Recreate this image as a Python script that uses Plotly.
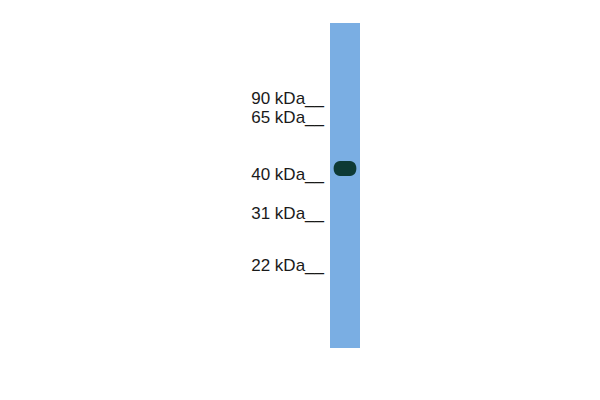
import plotly.graph_objects as go

# ラダーマーカー（ラベルとピクセル位置）
marker_labels = ["90 kDa__", "65 kDa__", "40 kDa__", "31 kDa__", "22 kDa__"]
marker_y = [100, 119, 176, 215, 267]

# レーンとバンド
lane_x = [345]
lane_top = [23]
lane_bottom = [348]
band_x = [345]
band_y = [168.5]
band_w = [25]
band_h = [15]

fig = go.Figure()

# レーン（棒で描く）
fig.add_trace(go.Bar(
    x=lane_x, y=[lane_bottom[0] - lane_top[0]], base=lane_top,
    width=30, marker=dict(color="#7aaee3", line=dict(width=0)),
    hoverinfo="skip", showlegend=False
))

# バンド（角の丸い横長の楕円）
for bx, by, bw, bh in zip(band_x, band_y, band_w, band_h):
    l, r = bx - bw / 2, bx + bw / 2
    t, b = by - bh / 2, by + bh / 2
    k = bh / 2
    path = (f"M {l + k},{t} L {r - k},{t} C {r + 1},{t} {r + 1},{b} {r - k},{b} "
            f"L {l + k},{b} C {l - 1},{b} {l - 1},{t} {l + k},{t} Z")
    fig.add_shape(type="path", xref="x", yref="y", path=path,
                  fillcolor="#0e3a35", line=dict(width=0))

# マーカーラベル
fig.add_trace(go.Scatter(
    x=[324] * len(marker_labels), y=marker_y, mode="text",
    text=marker_labels, textposition="middle left",
    textfont=dict(family="Liberation Sans, Arial", size=17, color="#1a1a1a"),
    hoverinfo="skip", showlegend=False
))

# ページ余白(8px)ぶん軸をずらす
fig.update_layout(
    width=600, height=400,
    margin=dict(l=0, r=0, t=0, b=0),
    plot_bgcolor="white", paper_bgcolor="white",
    xaxis=dict(range=[8, 608], visible=False, fixedrange=True),
    yaxis=dict(range=[408, 8], visible=False, fixedrange=True),
    bargap=0,
)

fig.write_html("out.html")
